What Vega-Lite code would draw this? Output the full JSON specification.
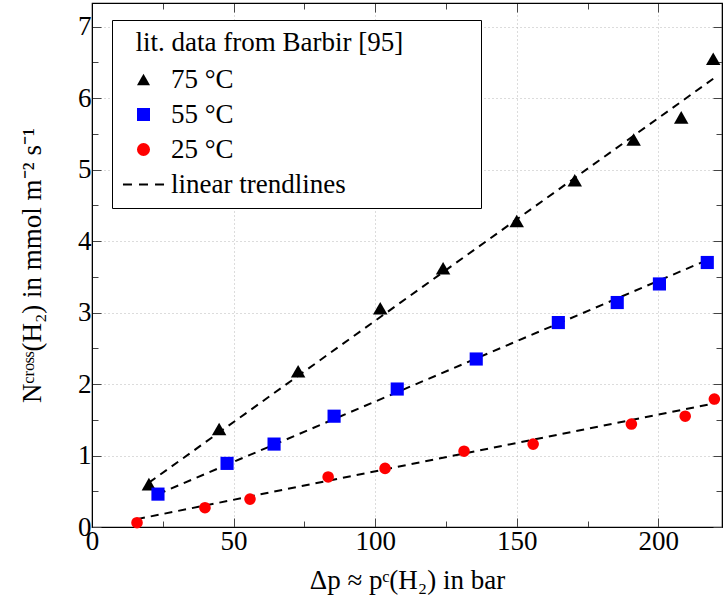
{
  "$schema": "https://vega.github.io/schema/vega-lite/v6.json",
  "width": 630,
  "height": 524,
  "autosize": "none",
  "padding": {"left": 92, "top": 3, "right": 2, "bottom": 83},
  "background": "white",
  "config": {
    "view": {"stroke": "black", "strokeWidth": 1.2},
    "font": "Liberation Serif",
    "axis": {
      "labelFont": "Liberation Serif",
      "labelFontSize": 27,
      "labelColor": "black",
      "titleFont": "Liberation Serif",
      "titleFontSize": 27,
      "titleFontWeight": "normal",
      "titleColor": "black",
      "domainColor": "black",
      "tickColor": "#444444",
      "tickWidth": 1,
      "gridColor": "#b8b8b8",
      "gridDash": [1, 3],
      "gridWidth": 1,
      "labelFlush": false,
      "labelOverlap": false
    },
    "legend": {
      "orient": "none",
      "legendX": 20,
      "legendY": 17,
      "strokeColor": "black",
      "fillColor": "white",
      "padding": 10,
      "titleFont": "Liberation Serif",
      "titleFontSize": 27,
      "titleFontWeight": "normal",
      "titleColor": "black",
      "titlePadding": 9,
      "titleLimit": 600,
      "labelLimit": 600,
      "labelFont": "Liberation Serif",
      "labelFontSize": 27,
      "labelColor": "black",
      "labelOffset": 14,
      "symbolSize": 170,
      "symbolOffset": 8,
      "symbolStrokeWidth": 2,
      "rowPadding": 7
    }
  },
  "datasets": {
    "points": [
      {"series": "75 °C", "x": 20.1, "y": 0.60},
      {"series": "75 °C", "x": 44.9, "y": 1.37},
      {"series": "75 °C", "x": 72.8, "y": 2.18},
      {"series": "75 °C", "x": 101.8, "y": 3.06},
      {"series": "75 °C", "x": 124.0, "y": 3.62},
      {"series": "75 °C", "x": 150.0, "y": 4.28},
      {"series": "75 °C", "x": 170.5, "y": 4.85},
      {"series": "75 °C", "x": 191.3, "y": 5.42},
      {"series": "75 °C", "x": 208.1, "y": 5.73},
      {"series": "75 °C", "x": 219.4, "y": 6.55},
      {"series": "55 °C", "x": 23.3, "y": 0.46},
      {"series": "55 °C", "x": 47.7, "y": 0.89},
      {"series": "55 °C", "x": 64.3, "y": 1.16},
      {"series": "55 °C", "x": 85.5, "y": 1.55},
      {"series": "55 °C", "x": 107.8, "y": 1.93},
      {"series": "55 °C", "x": 135.7, "y": 2.35},
      {"series": "55 °C", "x": 164.7, "y": 2.86},
      {"series": "55 °C", "x": 185.5, "y": 3.14},
      {"series": "55 °C", "x": 200.4, "y": 3.40},
      {"series": "55 °C", "x": 217.3, "y": 3.70},
      {"series": "25 °C", "x": 15.9, "y": 0.06},
      {"series": "25 °C", "x": 39.9, "y": 0.27},
      {"series": "25 °C", "x": 55.8, "y": 0.39},
      {"series": "25 °C", "x": 83.4, "y": 0.70},
      {"series": "25 °C", "x": 103.5, "y": 0.82},
      {"series": "25 °C", "x": 131.4, "y": 1.06},
      {"series": "25 °C", "x": 155.8, "y": 1.16},
      {"series": "25 °C", "x": 190.5, "y": 1.44},
      {"series": "25 °C", "x": 209.5, "y": 1.55},
      {"series": "25 °C", "x": 219.8, "y": 1.79}
    ],
    "trend": [
      {"series": "75 °C", "x": 20.1, "y": 0.62},
      {"series": "75 °C", "x": 219.4, "y": 6.27},
      {"series": "55 °C", "x": 23.3, "y": 0.46},
      {"series": "55 °C", "x": 217.3, "y": 3.735},
      {"series": "25 °C", "x": 15.9, "y": 0.11},
      {"series": "25 °C", "x": 219.8, "y": 1.73}
    ]
  },
  "resolve": {"axis": {"x": "independent", "y": "independent"}},
  "layer": [
    {
      "data": {"name": "trend"},
      "mark": {"type": "line", "color": "black", "strokeWidth": 2, "strokeDash": [8, 6]},
      "encoding": {
        "x": {
          "field": "x", "type": "quantitative",
          "scale": {"domain": [0, 222.5], "nice": false, "zero": false},
          "axis": {
            "orient": "bottom",
            "values": [0, 25, 50, 75, 100, 125, 150, 175, 200],
            "labelExpr": "datum.value % 50 === 0 ? format(datum.value, 'd') : ''",
            "tickSize": {"condition": {"test": "datum.value % 50 === 0", "value": -9}, "value": -6},
            "gridOpacity": {"condition": {"test": "datum.value % 50 === 0 && datum.value > 0", "value": 1}, "value": 0},
            "grid": true,
            "labelPadding": 10,
            "title": "Δp ≈ pᶜ(H₂) in bar",
            "titlePadding": 10
          }
        },
        "y": {
          "field": "y", "type": "quantitative",
          "scale": {"domain": [0, 7.33], "nice": false, "zero": false},
          "axis": {
            "orient": "left",
            "values": [0, 0.5, 1, 1.5, 2, 2.5, 3, 3.5, 4, 4.5, 5, 5.5, 6, 6.5, 7],
            "labelExpr": "datum.value % 1 === 0 ? format(datum.value, 'd') : ''",
            "tickSize": {"condition": {"test": "datum.value % 1 === 0", "value": -9}, "value": -6},
            "gridOpacity": {"condition": {"test": "datum.value % 1 === 0 && datum.value > 0", "value": 1}, "value": 0},
            "grid": true,
            "labelPadding": 10,
            "title": "Nᶜʳᵒˢˢ(H₂) in mmol m⁻² s⁻¹",
            "titlePadding": 31
          }
        },
        "detail": {"field": "series"}
      }
    },
    {
      "data": {"name": "points"},
      "mark": {"type": "point", "filled": true, "opacity": 1},
      "encoding": {
        "x": {
          "field": "x", "type": "quantitative",
          "axis": {
            "orient": "top",
            "values": [0, 25, 50, 75, 100, 125, 150, 175, 200],
            "labels": false,
            "grid": false,
            "title": null,
            "tickSize": {"condition": {"test": "datum.value % 50 === 0", "value": -9}, "value": -6}
          }
        },
        "y": {
          "field": "y", "type": "quantitative",
          "axis": {
            "orient": "right",
            "values": [0, 0.5, 1, 1.5, 2, 2.5, 3, 3.5, 4, 4.5, 5, 5.5, 6, 6.5, 7],
            "labels": false,
            "grid": false,
            "title": null,
            "tickSize": {"condition": {"test": "datum.value % 1 === 0", "value": -9}, "value": -6}
          }
        },
        "size": {
          "field": "series", "type": "nominal",
          "scale": {"domain": ["75 °C", "55 °C", "25 °C"], "range": [210, 135, 165]},
          "legend": null
        },
        "shape": {
          "field": "series", "type": "nominal",
          "scale": {
            "domain": ["75 °C", "55 °C", "25 °C", "linear trendlines"],
            "range": ["triangle-up", "square", "circle", "M-3.15,0H-1.77M-0.69,0H0.69M1.77,0H3.15"]
          },
          "legend": {"title": "\u200b\u2002lit. data from Barbir [95]\u2002\u2002\u2002\u2002\u2002\u200b"}
        },
        "fill": {
          "field": "series", "type": "nominal",
          "scale": {
            "domain": ["75 °C", "55 °C", "25 °C", "linear trendlines"],
            "range": ["black", "#0000ff", "#ff0000", "black"]
          },
          "legend": {"title": "\u200b\u2002lit. data from Barbir [95]\u2002\u2002\u2002\u2002\u2002\u200b"}
        },
        "stroke": {
          "field": "series", "type": "nominal",
          "scale": {
            "domain": ["75 °C", "55 °C", "25 °C", "linear trendlines"],
            "range": ["transparent", "transparent", "transparent", "black"]
          },
          "legend": {"title": "\u200b\u2002lit. data from Barbir [95]\u2002\u2002\u2002\u2002\u2002\u200b"}
        }
      }
    }
  ]
}
